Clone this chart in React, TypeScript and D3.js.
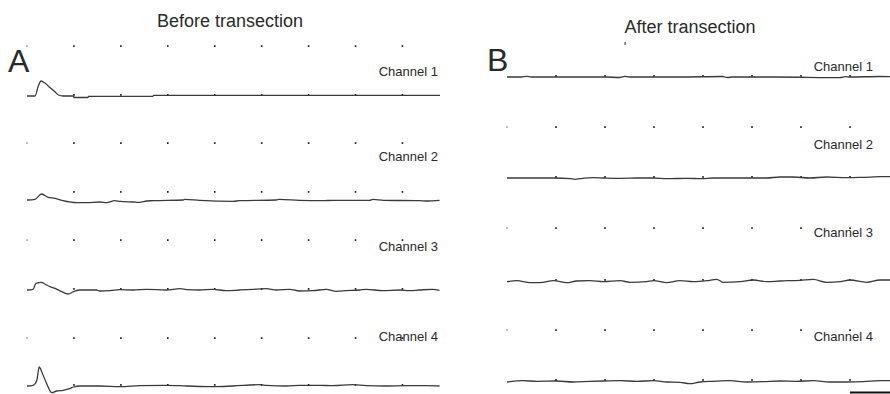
import * as d3 from 'd3'

// time (ms) of each sample, amplitude (a.u.) per channel
const tA1 = [0, 1.7, 2.4, 3.0, 3.8, 4.9, 6.0, 6.7, 7.7, 9.9, 10.0, 13.0, 13.1, 26.8, 27.0, 88]
const vA1 = [0, 0, 10, 15, 13, 8.5, 4, 1, 0, 0, -1.5, -1.5, -0.3, -0.3, 0.7, 0.7]

const tA2 = [0, 1.7, 3.1, 4.5, 6.0, 7.7, 10.6, 12.7, 15.5, 17, 18.7, 19.8, 22.6, 24, 25.5, 26.9, 33.3, 33.6, 36.8, 43.9, 45.3, 53.1, 53.8, 58, 63, 65.2, 73, 73.7, 76, 83.6, 85, 87.9]
const vA2 = [0, 0.7, 6, 2.7, 1.7, -0.7, -2.7, -2.7, -2, -2.7, -0.7, -1.3, -2, -2.3, -1, -0.7, 0, 0.7, -0.3, -1.3, -0.7, 0, 0.7, -0.3, -0.7, -0.3, -0.3, 0.7, -0.3, -0.7, -1, -0.3]

const tA3 = [0, 1.3, 1.9, 3.1, 3.8, 4.9, 6, 7.4, 8.8, 9.9, 11.3, 14.8, 15.5, 17.7, 19.8, 22.6, 25.5, 29.7, 32.6, 34, 36.8, 39.6, 42.5, 45.3, 48.2, 51, 53.1, 56, 58.1, 60.9, 63.8, 65.9, 68, 70.9, 72.3, 75.8, 79.4, 81.5, 83.6, 86.4, 87.9]
const vA3 = [0, 0.7, 6.7, 7.7, 6, 3.3, 1.7, -1.7, -4, -1.7, 0, 0, -1, -0.7, 0.3, 0, 0.7, 0, 1.3, 0.3, 0, 0.7, -0.7, 0, 0.7, 1.3, 0, 0.7, -1, -0.7, 0.7, -1.3, -0.7, 0, 0.7, -0.7, 0, -0.7, 0, 0.7, -0.3]

const tA4 = [0, 1.3, 2.1, 2.6, 3.3, 4.2, 5.3, 6.3, 7.7, 9.1, 9.9, 11.3, 15.5, 19.8, 24, 29.7, 34, 39.6, 43.9, 49.6, 51, 55.3, 58.1, 62.3, 65.2, 69.4, 72.3, 76.5, 80.8, 85, 87.9]
const vA4 = [0, 0.7, 5.7, 19, 12.3, 2.3, -6.7, -5, -4.3, -2.7, -1, 0, 0, -0.7, 0.3, 0.7, 0, -0.7, 0, 1.3, 0.7, 0, 0.7, 0.7, 0.3, 1.3, 0.3, 0, 0.3, 0.3, 0]

const tB1 = [0, 3, 4, 5, 12, 20, 23, 24, 25, 35, 44, 45, 46, 55, 68, 69, 70, 76, 80]
const vB1 = [0, 0, 0.7, 0, 0, 0, -0.5, 0.7, 0, 0, 0.5, -0.5, 0, 0, -0.7, 0.3, 0, 0.5, 0]

const tB2 = [0, 9.5, 12.9, 13.9, 14.9, 17.6, 19.7, 23.1, 26.5, 29.9, 32.6, 36.7, 39.7, 42.1, 45.5, 48.9, 53, 55.7, 58.4, 61.8, 65.2, 69.3, 72.7, 76.1, 80]
const vB2 = [0, 0, -0.7, -1.3, -0.7, 0.3, 0, -0.3, 0, 0, -0.7, -0.3, -0.7, 0, 0, 0, 0, 1, 1, 0, 1, 0.3, 0.7, 1.3, 1.3]

const tB3 = [0, 2, 4.7, 6.7, 9.5, 12.2, 14.2, 16.9, 19.7, 23.1, 25.1, 28.5, 29.9, 32.6, 35.3, 38, 40.8, 42.8, 44.1, 47.6, 50.3, 53, 55.7, 59.8, 62.5, 65.2, 68, 70, 73.4, 76.1, 80]
const vB3 = [-0.7, 0.3, -1.7, -1.7, 0.3, -1.7, 0, 0.3, -0.7, 0.3, -1.3, -0.7, 0.3, -1.7, 0.3, -0.7, 0.3, 1.7, -1.3, -0.7, 1, -0.7, 0, 0.7, 1.7, -1.3, -0.7, 1, -1.3, 1, 1]

const tB4 = [0, 3.3, 6.1, 10.1, 13.5, 16.9, 19.7, 23.1, 26.5, 29.9, 32.6, 35.3, 37.3, 39.4, 42.1, 45.5, 48.9, 52.3, 55.7, 59.1, 62.5, 65.9, 69.3, 72.7, 76.1, 80]
const vB4 = [-1, 0.3, -0.3, 0, -1, -0.3, 0, 0.3, -0.3, 0.3, -1, -1.3, -2.7, -1, -0.3, 0.3, -1, -0.7, 0, -0.3, 0.3, -1, -1, -0.7, 0.3, 0.3]

const channelNames = ['Channel 1', 'Channel 2', 'Channel 3', 'Channel 4']
const gridTicksA = [0, 10, 20, 30, 40, 50, 60, 70, 80]
const gridTicksB = [0, 10, 20, 30, 40, 50, 60, 70]

const panels = [
  {
    letter: 'A', title: 'Before transection',
    times: [tA1, tA2, tA3, tA4], values: [vA1, vA2, vA3, vA4],
    domain: [0, 88], range: [27, 440], ticks: gridTicksA,
    base: [96, 200, 290, 386], dotRow: [46, 143, 240, 338], traceTickOff: [-1, -8, -1, -1],
    labelY: [76, 161, 251, 341], labelX: 438,
    letterX: 8, letterY: 72, titleX: 230, titleY: 27,
  },
  {
    letter: 'B', title: 'After transection',
    times: [tB1, tB2, tB3, tB4], values: [vB1, vB2, vB3, vB4],
    domain: [0, 80], range: [507, 899], ticks: gridTicksB,
    base: [77, 178, 281, 381], dotRow: [null, 127, 228, 330], traceTickOff: [-1, -1, -1, -1],
    labelY: [71, 149, 237, 341], labelX: 873,
    letterX: 487, letterY: 71, titleX: 690, titleY: 33,
  },
]

const W = 890
const H = 394
const font = 'Liberation Sans, Arial, sans-serif'
const ink = '#2a2a2a'

export default function App() {
  return (
    <svg width={W} height={H} style={{ position: 'fixed', left: 0, top: 0, background: '#fff' }}>
      <rect width={W} height={H} fill="#fff" />
      {panels.map(p => {
        const x = d3.scaleLinear().domain(p.domain).range(p.range)
        return (
          <g key={p.letter}>
            <text x={p.titleX} y={p.titleY} textAnchor="middle" fontFamily={font} fontSize={18} fill={ink}>{p.title}</text>
            <text x={p.letterX} y={p.letterY} fontFamily={font} fontSize={32} fill={ink}>{p.letter}</text>
            {p.letter === 'B' && (
              <rect x={x(24)} y={42} width={1} height={3} fill={ink} />
            )}
            {channelNames.map((name, i) => {
              const y = d3.scaleLinear().domain([-1, 1]).range([p.base[i] + 1, p.base[i] - 1])
              const pts = p.times[i].map((t, j) => [t, p.values[i][j]] as [number, number])
              const line = d3.line<[number, number]>().x(d => x(d[0])).y(d => y(d[1])).curve(d3.curveMonotoneX)
              const row = p.dotRow[i]
              return (
                <g key={name}>
                  <text x={p.labelX} y={p.labelY[i]} textAnchor="end" fontFamily={font} fontSize={13} fill={ink}>{name}</text>
                  {row !== null && p.ticks.map((t, k) => (
                    <rect key={'d' + k} x={x(t) - 0.8} y={row - 0.8} width={1.6} height={1.8} fill={k === 0 ? '#aaa' : '#222'} />
                  ))}
                  {p.ticks.slice(1).map((t, k) => (
                    <rect key={'t' + k} x={x(t) - 0.8} y={p.base[i] + p.traceTickOff[i] - 1} width={1.6} height={1.8} fill="#222" />
                  ))}
                  <path d={line(pts) ?? ''} fill="none" stroke="#3a3a3a" strokeWidth={1.3} strokeLinejoin="round" />
                </g>
              )
            })}
          </g>
        )
      })}
      {/* scale bar */}
      {(() => {
        const x = d3.scaleLinear().domain(panels[1].domain).range(panels[1].range)
        return <line x1={x(70)} x2={x(80)} y1={392.5} y2={392.5} stroke="#111" strokeWidth={2} />
      })()}
    </svg>
  )
}
